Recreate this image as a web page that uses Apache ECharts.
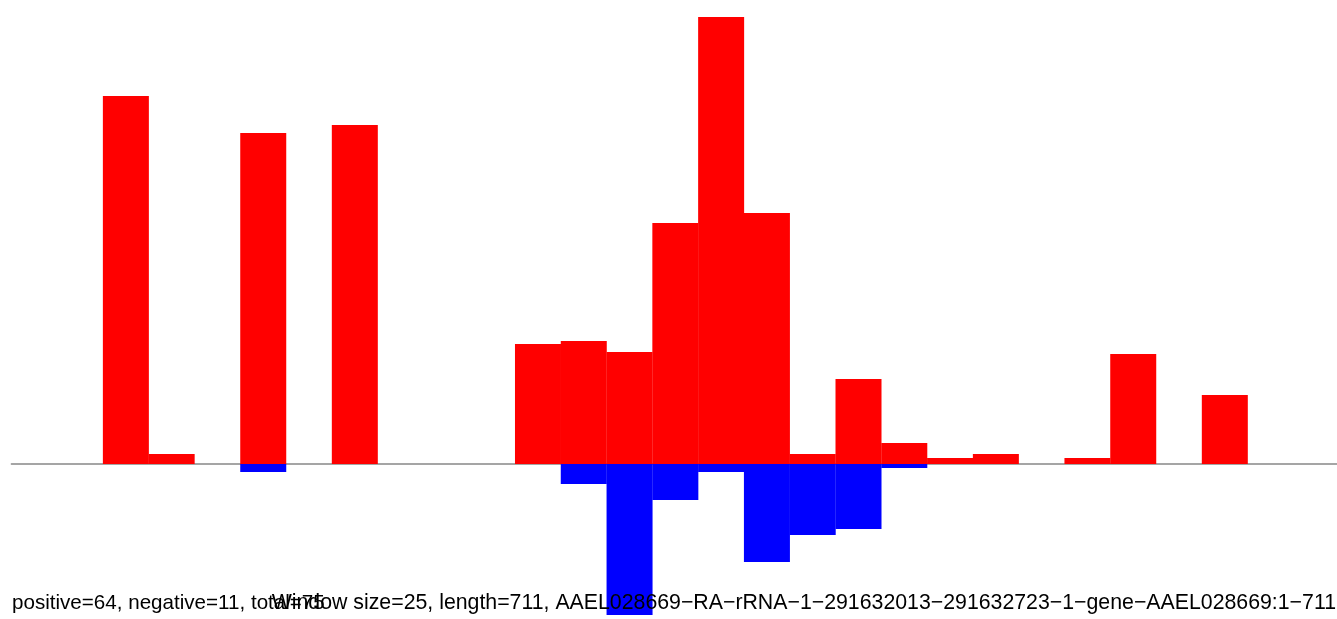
<!DOCTYPE html>
<html>
<head>
<meta charset="utf-8">
<script src="https://cdn.jsdelivr.net/npm/echarts@6/dist/echarts.min.js"></script>
<style>
html,body{margin:0;padding:0;background:#fff;}
#c{width:1337px;height:619px;}
</style>
</head>
<body>
<div id="c"></div>
<script>
// Window indices (window size 25, length 711)
const windows = [0,1,2,3,4,5,6,7,8,9,10,11,12,13,14,15,16,17,18,19,20,21,22,23,24,25,26,27,28];
// Positive-strand values per window
const positiveValues = [0,0,36.8,1.0,0,33.1,0,33.9,0,0,0,12.0,12.3,11.2,24.1,44.7,25.1,1.0,8.5,2.1,0.6,1.0,0,0.6,11.0,0,6.9,0,0];
// Negative-strand values per window
const negativeValues = [0,0,0,0,0,-0.8,0,0,0,0,0,0,-2.0,-15.1,-3.6,-0.8,-9.8,-7.1,-6.5,-0.4,0,0,0,0,0,0,0,0,0];
const leftLabel = "positive=64, negative=11, total=75";
const rightLabel = "Window size=25, length=711, AAEL028669\u2212RA\u2212rRNA\u22121\u2212291632013\u2212291632723\u22121\u2212gene\u2212AAEL028669:1\u2212711";

const posData = windows.map((w, i) => [w, positiveValues[i]]);
const negData = windows.map((w, i) => [w, negativeValues[i]]);

const chart = echarts.init(document.getElementById('c'), null, {renderer:'canvas'});
chart.setOption({
  animation:false,
  backgroundColor:'#ffffff',
  grid:{left:11.4, top:0, right:0, height:619},
  xAxis:{
    type:'value', min:-0.5, max:28.45,
    axisLine:{show:true, onZero:true, lineStyle:{color:'#888888', width:1.5}},
    axisTick:{show:false}, axisLabel:{show:false}, splitLine:{show:false}
  },
  yAxis:{
    type:'value', min:-15.5, max:46.4,
    show:false, splitLine:{show:false}
  },
  series:[
    {type:'bar', data:posData, barWidth:46, barGap:'-100%', itemStyle:{color:'#ff0000'}, z:3},
    {type:'bar', data:negData, barWidth:46, barGap:'-100%', itemStyle:{color:'#0000ff'}, z:3}
  ],
  graphic:[
    {type:'text', left:12, top:593, z:10, style:{text:leftLabel, font:'20.6px "Liberation Sans", Arial, sans-serif', fill:'#000'}},
    {type:'text', right:1, top:593, z:10, style:{text:rightLabel, font:'21.3px "Liberation Sans", Arial, sans-serif', fill:'#000'}}
  ]
});
</script>
</body>
</html>
